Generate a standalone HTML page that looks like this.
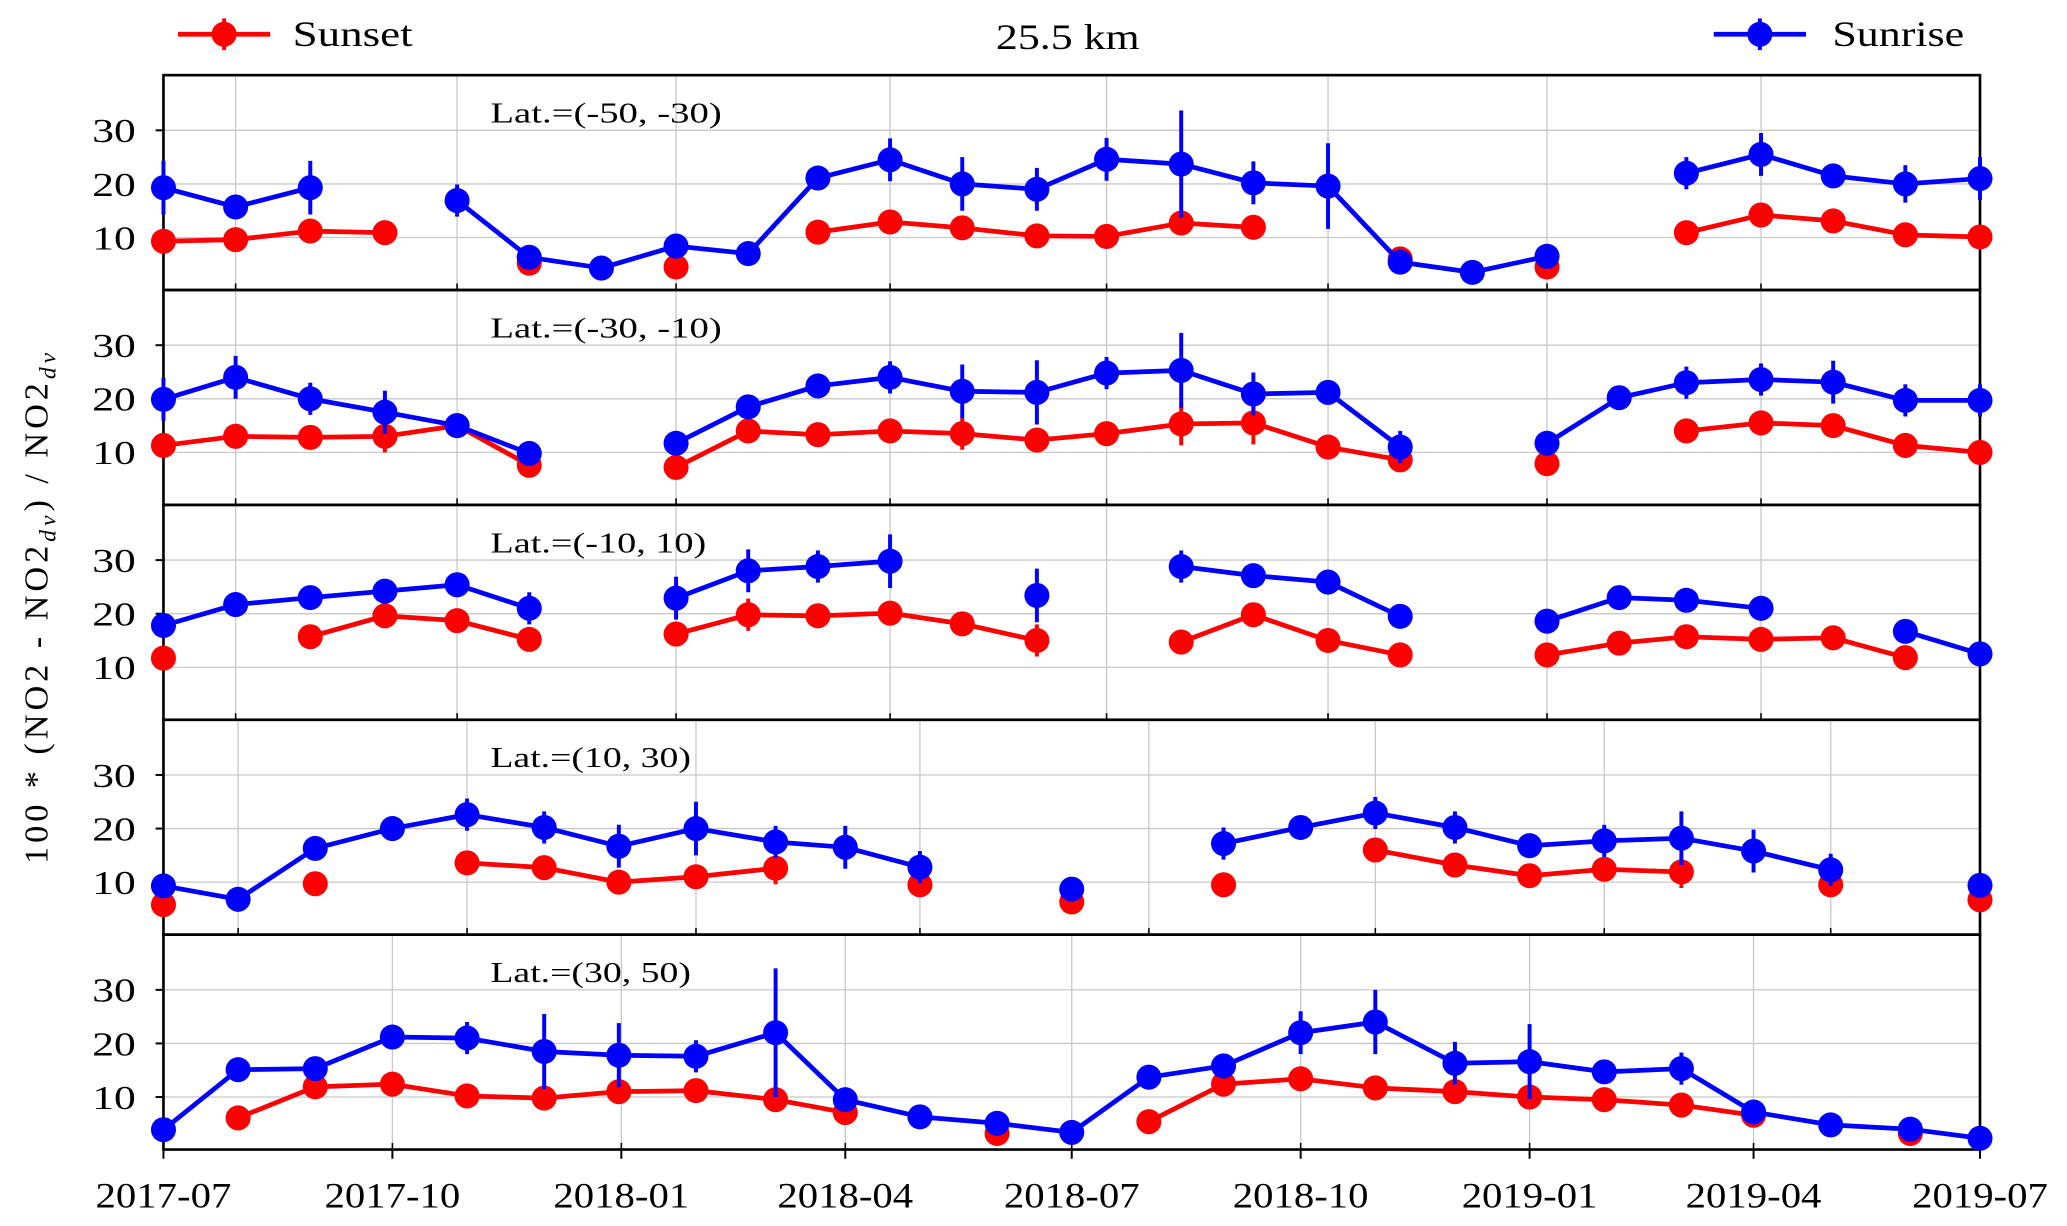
<!DOCTYPE html>
<html><head><meta charset="utf-8"><style>
html,body{margin:0;padding:0;background:#fff;}
svg{display:block;font-family:"Liberation Serif",serif;}
</style></head><body>
<svg id="chart" width="2067" height="1226" viewBox="0 0 1568 930" preserveAspectRatio="none" xmlns="http://www.w3.org/2000/svg"></svg>
<script>
// ---- data (x = days since 2017-07-01) ----
const dA = [0,29,59,89,118,147,176,206,235,263,292,321,351,379,409,438,468,497,526,556,585,612,642,671,700,730];
const dB = [0,30,61,92,122,153,183,214,246,274,304,335,365,396,426,457,487,519,549,579,610,639,670,702,730];
const N = null;
const p1Sunset  = [9.3,9.6,11.2,10.9,N,5.2,N,4.5,N,11,12.9,11.8,10.3,10.2,12.7,11.9,N,6,N,4.5,N,10.9,14.2,13.1,10.5,10.1];
const p1Sunrise = [19.3,15.7,19.3,N,16.9,6.3,4.3,8.4,7,21.1,24.5,20,19,24.6,23.7,20.2,19.6,5.4,3.5,6.5,N,22,25.5,21.5,20,21];
const p1SunriseErr = [5,1,5,0,3,1,1,1,1,1,4,5,4,4,10,4,8,1,1,1,0,3,4,2,3.5,4];
const p2Sunset  = [11.3,13,12.8,13,15,7.6,N,7.2,14,13.3,14,13.5,12.3,13.5,15.3,15.5,11,8.6,N,7.9,N,14,15.5,15,11.3,10];
const p2SunsetErr = [1,1,1,3,1,1,0,1,1,1,1,3,1,1,4,4,1,1,0,1,0,1,1,1,1,1];
const p2Sunrise = [19.9,24,20,17.5,15,9.8,N,11.7,18.5,22.4,24,21.4,21.2,24.8,25.3,20.9,21.2,11,N,11.7,20.2,23,23.6,23.1,19.7,19.7];
const p2SunriseErr = [4,4,3,4,1,2,0,2,1,1,3,5,6,3,7,4,1,3,0,1,1,3,3,4,3,3];
const p3Sunset  = [11.7,N,15.7,19.6,18.7,15.2,N,16.2,19.8,19.6,20.1,18.1,15,N,14.7,19.8,15,12.3,N,12.3,14.5,15.7,15.2,15.5,11.8,N];
const p3SunsetErr = [1,0,1,1,1,1,0,1,3,1,1,1,3,0,1,1,1,1,0,1,1,1,1,1,1,0];
const p3Sunrise = [17.8,21.7,23,24.2,25.4,21,N,22.9,28,28.8,29.8,N,23.4,N,28.8,27.1,25.9,19.5,N,18.6,23,22.5,21,N,16.7,12.5];
const p3SunriseErr = [1,1,1,1,1,3,0,4,4,3,5,0,5,0,3,1,1,1,0,1,1,1,1,0,1,1];
const p4Sunset  = [5.8,N,9.7,N,13.6,12.7,10,11,12.6,N,9.5,N,6.3,N,9.5,N,16,13.2,11.2,12.4,11.9,N,9.5,N,6.7];
const p4SunsetErr = [1,0,1,0,1,1,1,1,3,0,1,0,1,0,1,0,1,1,1,1,3,0,1,0,1];
const p4Sunrise = [9.3,6.8,16.3,20,22.6,20.2,16.7,20,17.5,16.5,12.8,N,8.7,N,17.2,20.2,22.9,20.2,16.8,17.7,18.2,15.8,12.3,N,9.4];
const p4SunriseErr = [1,1,1,1,3,3,4,5,3,4,3,0,1,0,3,1,3,3,1,3,5,4,3,0,1];
const p5Sunset  = [N,6.1,11.9,12.4,10.2,9.8,11,11.2,9.5,7.1,N,3.2,N,5.4,12.4,13.4,11.7,11,10,9.5,8.5,6.6,N,3.2,N];
const p5Sunrise = [3.9,15.1,15.3,21.2,21,18.5,17.8,17.6,22,9.5,6.3,5.1,3.4,13.7,15.8,22,24,16.3,16.6,14.7,15.3,7.2,4.8,4,2.3];
const p5SunriseErr = [1,1,1,1,3,7,6,3,12,1,1,1,1,1,1,4,6,4,7,1,3,1,1,1,1];
const gridA = [29,118,206,292,379,468,556,642];
const gridB = [30,122,214,304,396,487,579,670];
const tickDays = [0,92,184,274,365,457,549,639,730];
const tickLabels = ["2017-07","2017-10","2018-01","2018-04","2018-07","2018-10","2019-01","2019-04","2019-07"];
const yTicks = [10,20,30];
const latLabels = ["Lat.=(-50, -30)","Lat.=(-30, -10)","Lat.=(-10, 10)","Lat.=(10, 30)","Lat.=(30, 50)"];

const svg = document.getElementById('chart');
const NS = 'http://www.w3.org/2000/svg';
function el(tag, attrs, parent){const e=document.createElementNS(NS,tag);for(const k in attrs)e.setAttribute(k,attrs[k]);(parent||svg).appendChild(e);return e;}

const L=124, R=1502, panelTop=[57,220,383,546,709], PH=163, Y0=0.2, Y1=40.3;
const xs = d => L + (R-L)*d/730;
const ys = (p,v) => panelTop[p] + PH*(Y1-v)/(Y1-Y0);

const panels = [
 {x:dA, grid:gridA, s:p1Sunset, se:null, r:p1Sunrise, re:p1SunriseErr},
 {x:dA, grid:gridA, s:p2Sunset, se:p2SunsetErr, r:p2Sunrise, re:p2SunriseErr},
 {x:dA, grid:gridA, s:p3Sunset, se:p3SunsetErr, r:p3Sunrise, re:p3SunriseErr},
 {x:dB, grid:gridB, s:p4Sunset, se:p4SunsetErr, r:p4Sunrise, re:p4SunriseErr},
 {x:dB, grid:tickDays.slice(1,-1), s:p5Sunset, se:null, r:p5Sunrise, re:p5SunriseErr}
];

function series(p, xsArr, vals, errs, color, name){
  const g = el('g',{});
  
  
  let segs=[], cur=[];
  vals.forEach((v,i)=>{ if(v===null){ if(cur.length)segs.push(cur); cur=[]; } else cur.push([xs(xsArr[i]),ys(p,v)]); });
  if(cur.length)segs.push(cur);
  segs.forEach(sg=>{ if(sg.length>1){ const pl=el('polyline',{points:sg.map(a=>a.join(',')).join(' '),fill:'none',stroke:color,'stroke-width':3.6,'stroke-linejoin':'round'},g);
      }});
  vals.forEach((v,i)=>{ if(v===null)return;
    const cx=xs(xsArr[i]), e=errs?errs[i]:1;
    const eb=el('line',{x1:cx,x2:cx,y1:ys(p,v+e),y2:ys(p,v-e),stroke:color,'stroke-width':3},g);
     
    const c=el('circle',{cx:cx,cy:ys(p,v),r:9.5,fill:color},g);
     
  });
}

panels.forEach((P,p)=>{
  const g = el('g',{});
  
  
  P.grid.forEach(d=>{ const l=el('line',{x1:xs(d),x2:xs(d),y1:panelTop[p],y2:panelTop[p]+PH,stroke:'#c8c8c8','stroke-width':1},g);
     
    el('line',{x1:xs(d),x2:xs(d),y1:panelTop[p]+PH,y2:panelTop[p]+PH-5,stroke:'#000','stroke-width':1.2},g); });
  yTicks.forEach(v=>{ const y=ys(p,v);
    const l=el('line',{x1:L,x2:R,y1:y,y2:y,stroke:'#c8c8c8','stroke-width':1},g);
     
    el('line',{x1:L-6,x2:L,y1:y,y2:y,stroke:'#000','stroke-width':1.5},g);
    const t=el('text',{x:L-21,y:y+9,'text-anchor':'end','font-size':26,textLength:33,lengthAdjust:'spacingAndGlyphs'},g); t.textContent=v;
     
  });
  const lt=el('text',{x:372,y:panelTop[p]+36,'font-size':22,textLength:latLabels[p].length*11.7,lengthAdjust:'spacingAndGlyphs'},g); lt.textContent=latLabels[p];
   
  series(p,P.x,P.s,P.se,'#ff0000','sunset-series');
  series(p,P.x,P.r,P.re,'#0000ff','sunrise-series');
  const f=el('rect',{x:L,y:panelTop[p],width:R-L,height:PH,fill:'none',stroke:'#000','stroke-width':2},g);
   
});
tickDays.forEach((d,i)=>{
  el('line',{x1:xs(d),x2:xs(d),y1:872,y2:879,stroke:'#000','stroke-width':1.5});
  const t=el('text',{x:xs(d),y:916,'text-anchor':'middle','font-size':27,textLength:103,lengthAdjust:'spacingAndGlyphs'}); t.textContent=tickLabels[i];
   
});
</script>
<script>
(function(){
const svg=document.getElementById('chart');const NS='http://www.w3.org/2000/svg';
function el(tag,a){const e=document.createElementNS(NS,tag);for(const k in a)e.setAttribute(k,a[k]);svg.appendChild(e);return e;}
const yl=el('text',{x:0,y:0,transform:'translate(36,460) rotate(-90)','text-anchor':'middle','font-size':26,'letter-spacing':'3'});
yl.innerHTML='100 * (NO2 - NO2<tspan font-style="italic" font-size="18" dy="6">dv</tspan><tspan dy="-6">)  /  NO2</tspan><tspan font-style="italic" font-size="18" dy="6">dv</tspan>';


const ti=el('text',{x:810,y:37,'text-anchor':'middle','font-size':27,textLength:109,lengthAdjust:'spacingAndGlyphs'});ti.textContent='25.5 km';


[[135,205,222,'#ff0000','Sunset',91],[1300,1370,1390,'#0000ff','Sunrise',100]].forEach(a=>{
  const g=document.createElementNS(NS,'g');svg.appendChild(g);
  
  
  const add=(t,at)=>{const e=document.createElementNS(NS,t);for(const k in at)e.setAttribute(k,at[k]);g.appendChild(e);return e;};
  const m=(a[0]+a[1])/2;
  add('line',{x1:a[0],x2:a[1],y1:26,y2:26,stroke:a[3],'stroke-width':3.6});
  add('line',{x1:m,x2:m,y1:14,y2:38,stroke:a[3],'stroke-width':3});
  add('circle',{cx:m,cy:26,r:9.5,fill:a[3]});
  const t=add('text',{x:a[2],y:35,'font-size':27,textLength:a[5],lengthAdjust:'spacingAndGlyphs'});t.textContent=a[4];
});
})();
</script>
</body></html>
